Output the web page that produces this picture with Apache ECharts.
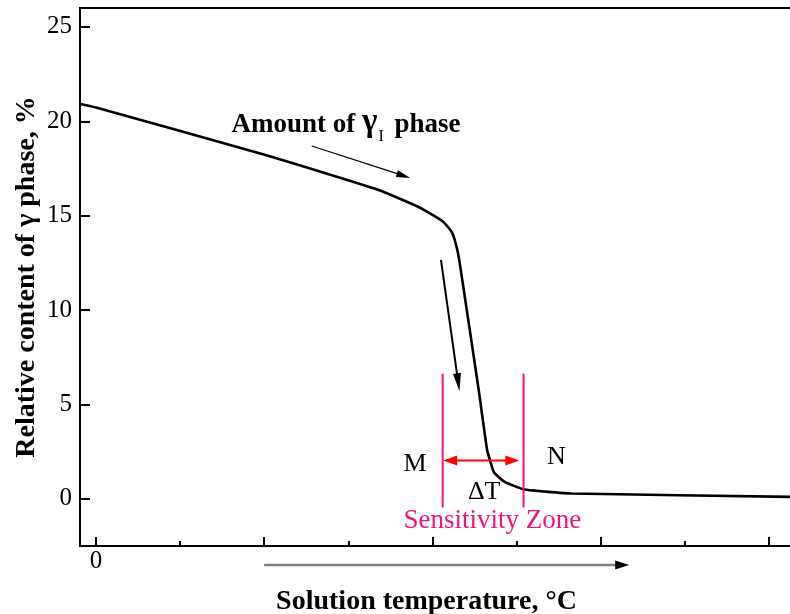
<!DOCTYPE html>
<html>
<head>
<meta charset="utf-8">
<script src="https://cdn.jsdelivr.net/npm/echarts@6/dist/echarts.min.js"></script>
<style>html,body{margin:0;padding:0;background:#fff;}#c{width:790px;height:614px;}</style>
</head>
<body>
<div id="c"></div>
<script>
// ---- data ----
const tempX = [-9.5, 0, 100.3, 167.6, 191.5, 206.4, 211.8, 214.8, 216.6, 227.5, 232.5, 234.3, 236.7, 242.7, 254.6, 266.5, 282.6, 413.3];
const gammaContent = [20.92, 20.73, 18.22, 16.37, 15.47, 14.68, 14.09, 13.19, 12.29, 5.79, 2.6, 2.03, 1.39, 0.91, 0.49, 0.39, 0.28, 0.10];
const yTickValues = [0, 5, 10, 15, 20, 25];
const xMajorTicks = [0, 100, 200, 300, 400];
const xMinorTicks = [50, 150, 250, 350];
const xLabelShown = [0];
const zoneM = 206.1;       // left boundary of sensitivity zone
const zoneN = 254.2;       // right boundary
const zoneLineY = [6.63, -0.46];
const deltaArrowY = 2.03;
const deltaArrowX = [206.4, 251.7];
const arrowAmount = [[128.3, 18.69], [186.8, 17.0]];
const arrowDrop = [[205.1, 12.66], [216.1, 5.7]];
const tempArrowX = [100, 317];

const FONT = '"Liberation Serif","Times New Roman",serif';
const PINK = '#f2137c';
const chart = echarts.init(document.getElementById('c'), null, {renderer: 'canvas'});

const seriesData = tempX.map((x, i) => [x, gammaContent[i]]);

chart.setOption({
  animation: false,
  backgroundColor: '#fff',
  grid: {left: 80, top: 8, right: -4, bottom: 68, outerBoundsMode: 'none', containLabel: false,
         show: true, borderColor: '#000', borderWidth: 2, backgroundColor: 'transparent'},
  xAxis: [{
    type: 'value', min: -9.5, max: 415,
    position: 'bottom',
    axisLine: {show: true, onZero: false, lineStyle: {color: '#000', width: 2}},
    axisTick: {show: true, inside: true, length: 9, customValues: xMajorTicks, lineStyle: {color: '#000', width: 2}},
    axisLabel: {show: true, customValues: xLabelShown, margin: 3, fontFamily: FONT, fontSize: 25, color: '#000'},
    splitLine: {show: false},
    name: 'Solution temperature, °C', nameLocation: 'middle', nameGap: 42, nameMoveOverlap: false,
    nameTextStyle: {fontFamily: FONT, fontSize: 28, fontWeight: 'bold', color: '#000', padding: [0, 21, 0, 0]}
  }, {
    type: 'value', min: -9.5, max: 415, position: 'bottom',
    axisLine: {show: false, onZero: false},
    axisTick: {show: true, inside: true, length: 5, customValues: xMinorTicks, lineStyle: {color: '#000', width: 2}},
    axisLabel: {show: false},
    splitLine: {show: false}
  }],
  yAxis: {
    type: 'value', min: -2.5, max: 26,
    axisLine: {show: true, onZero: false, lineStyle: {color: '#000', width: 2}},
    axisTick: {show: true, inside: true, length: 10, customValues: yTickValues, lineStyle: {color: '#000', width: 2}},
    axisLabel: {show: true, customValues: yTickValues, margin: 8, fontFamily: FONT, fontSize: 25, color: '#000'},
    splitLine: {show: false},
    name: 'Relative content of γ phase, %', nameLocation: 'middle', nameGap: 39, nameMoveOverlap: false,
    nameTextStyle: {fontFamily: FONT, fontSize: 28, fontWeight: 'bold', color: '#000'}
  },
  series: [{
    type: 'line', data: seriesData, xAxisIndex: 0,
    showSymbol: false, smooth: 0.15,
    lineStyle: {color: '#000', width: 2.6}
  }]
});

function px(p) { return chart.convertToPixel({gridIndex: 0}, p); }
function arrowHead(tip, from, len, wid, color) {
  const dx = tip[0] - from[0], dy = tip[1] - from[1];
  const d = Math.hypot(dx, dy), ux = dx / d, uy = dy / d;
  const bx = tip[0] - ux * len, by = tip[1] - uy * len;
  return {type: 'polygon', shape: {points: [tip, [bx - uy * wid / 2, by + ux * wid / 2], [bx + uy * wid / 2, by - ux * wid / 2]]}, style: {fill: color}, z: 100};
}
function arrow(a, b, width, len, wid, color, both) {
  const s = px(a), e = px(b);
  const dx = e[0] - s[0], dy = e[1] - s[1], d = Math.hypot(dx, dy);
  const ux = dx / d, uy = dy / d;
  const s2 = both ? [s[0] + ux * len * 0.8, s[1] + uy * len * 0.8] : s;
  const e2 = [e[0] - ux * len * 0.8, e[1] - uy * len * 0.8];
  const els = [{type: 'line', shape: {x1: s2[0], y1: s2[1], x2: e2[0], y2: e2[1]}, style: {stroke: color, lineWidth: width}, z: 100}];
  els.push(arrowHead(e, s, len, wid, color));
  if (both) els.push(arrowHead(s, e, len, wid, color));
  return els;
}
function text(p, str, style) {
  const q = px(p);
  return {type: 'text', x: q[0], y: q[1], style: Object.assign({text: str, fontFamily: FONT, fill: '#000', align: 'center', verticalAlign: 'middle'}, style), z: 100};
}

const g = [];
// pink zone boundaries
[zoneM, zoneN].forEach(x => {
  const a = px([x, zoneLineY[0]]), b = px([x, zoneLineY[1]]);
  g.push({type: 'line', shape: {x1: a[0], y1: a[1], x2: b[0], y2: b[1]}, style: {stroke: PINK, lineWidth: 2}, z: 90});
});
g.push(...arrow([deltaArrowX[0], deltaArrowY], [deltaArrowX[1], deltaArrowY], 2, 14, 10, '#ff0000', true));
g.push(...arrow(arrowAmount[0], arrowAmount[1], 1.2, 14, 7, '#000', false));
g.push(...arrow(arrowDrop[0], arrowDrop[1], 2, 18, 8, '#000', false));
g.push(text([189.7, 1.81], 'M', {fontSize: 26}));
g.push(text([273.7, 2.19], 'N', {fontSize: 26}));
g.push(text([230.8, 0.33], 'ΔT', {fontSize: 26}));
g.push(text([235.6, -1.18], 'Sensitivity Zone', {fontSize: 27, fill: PINK}));
g.push(text([80.6, 19.91], '{a|Amount of }{g|γ}{s|I}{a| phase}', {
  align: 'left', fontSize: 27,
  rich: {
    a: {fontFamily: FONT, fontSize: 27, fontWeight: 'bold', lineHeight: 32, verticalAlign: 'bottom'},
    g: {fontFamily: FONT, fontSize: 33, fontWeight: 'bold', lineHeight: 32, verticalAlign: 'bottom'},
    s: {fontFamily: FONT, fontSize: 16, lineHeight: 32, verticalAlign: 'bottom', padding: [0, 4, -6, 1]}
  }
}));
// temperature direction arrow under the axis
const ta = px([tempArrowX[0], 0])[0], tb = px([tempArrowX[1], 0])[0];
const ty = 565;
g.push({type: 'line', shape: {x1: ta, y1: ty, x2: tb - 12, y2: ty}, style: {stroke: '#808080', lineWidth: 2.5}, z: 100});
g.push({type: 'polygon', shape: {points: [[tb, ty], [tb - 14, ty - 4.5], [tb - 14, ty + 4.5]]}, style: {fill: '#000'}, z: 100});

chart.setOption({graphic: g});
</script>
</body>
</html>
